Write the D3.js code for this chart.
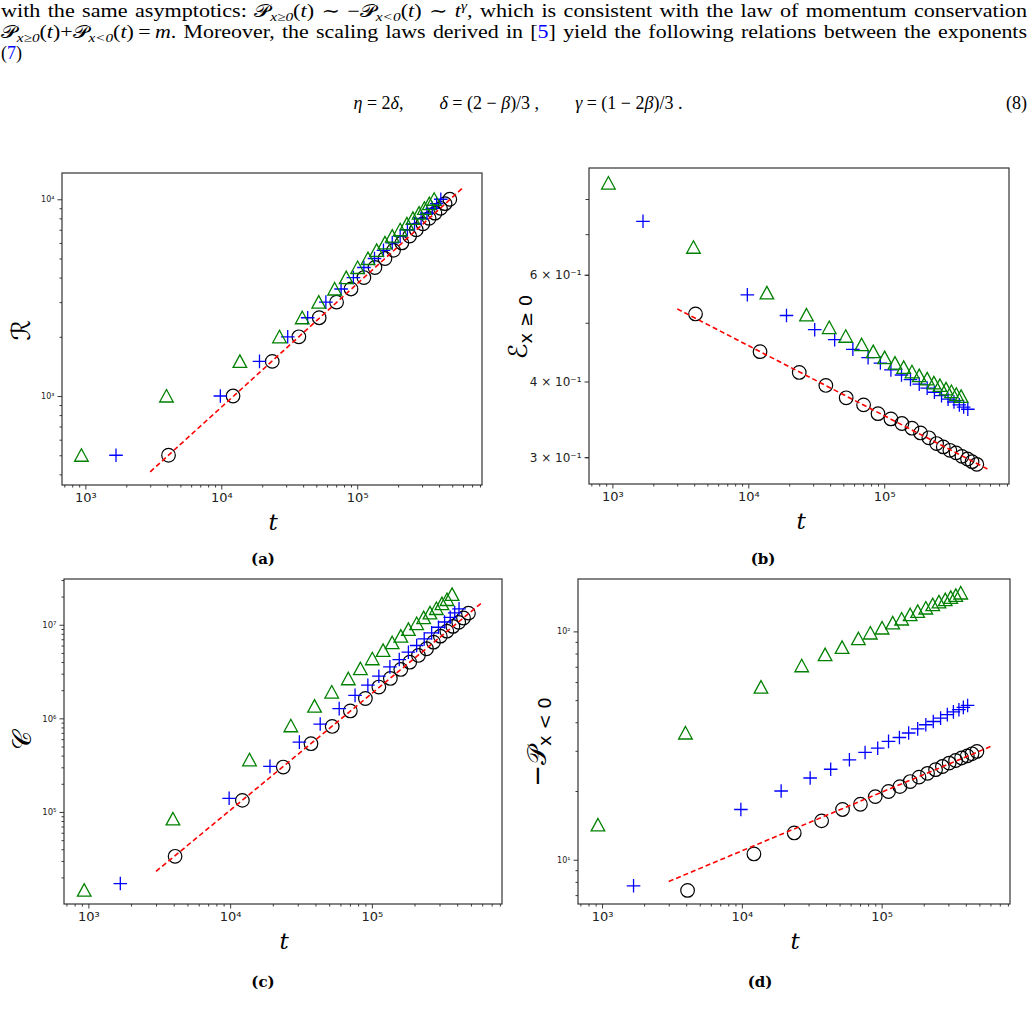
<!DOCTYPE html>
<html lang="en">
<head>
<meta charset="utf-8">
<title>Scaling of R, E, C, P</title>
<script src="https://d3js.org/d3.v7.min.js"></script>
<style>
  body { margin: 0; background: #fff; }
  .page { font-family: "Liberation Serif", "DejaVu Serif", serif; font-size: 18px; fill: #000; }
  .cap { font-family: "DejaVu Serif", serif; font-weight: bold; font-size: 15px; }
  .xlab { font-family: "DejaVu Serif", serif; font-style: italic; font-size: 23px; }
</style>
</head>
<body>
<script>
// times of the three runs (same for every panel)
const tTri  = [935, 3950, 13700, 26800, 39400, 52100, 68200, 83000, 100700, 120000, 139000, 160000, 181000, 207000, 232000, 257000, 285000, 312000, 339000, 368000];
const tPlus = [1680, 9840, 19100, 30800, 43200, 58800, 76100, 93700, 112000, 134000, 156000, 181000, 207000, 234000, 264000, 295000, 326000, 357000, 384000, 412000];
const tCirc = [4090, 12200, 23700, 37200, 52500, 70500, 90000, 112000, 135000, 160000, 185000, 213000, 243000, 272000, 304000, 338000, 373000, 410000, 443000, 480000];

// (a) R
const rVals = [500, 1000, 1500, 2000, 2500, 3000, 3500, 4000, 4500, 5000, 5500, 6000, 6500, 7000, 7500, 8000, 8500, 9000, 9500, 10000];

// (b) E_{x>=0}
const eTri  = [0.850, 0.666, 0.560, 0.515, 0.491, 0.475, 0.460, 0.448, 0.438, 0.429, 0.422, 0.415, 0.409, 0.404, 0.398, 0.394, 0.389, 0.385, 0.381, 0.378];
const ePlus = [0.735, 0.556, 0.514, 0.487, 0.469, 0.452, 0.438, 0.429, 0.418, 0.410, 0.403, 0.396, 0.390, 0.384, 0.379, 0.374, 0.370, 0.366, 0.363, 0.360];
const eCirc = [0.517, 0.448, 0.414, 0.394, 0.376, 0.366, 0.354, 0.347, 0.341, 0.335, 0.329, 0.323, 0.316, 0.312, 0.308, 0.305, 0.301, 0.298, 0.295, 0.292];

// (c) C
const cTri  = [14600, 84200, 361000, 834000, 1.35e6, 1.91e6, 2.65e6, 3.39e6, 4.33e6, 5.32e6, 6.43e6, 7.56e6, 8.92e6, 1.03e7, 1.19e7, 1.34e7, 1.49e7, 1.68e7, 1.86e7, 2.11e7];
const cPlus = [17200, 140000, 307000, 558000, 869000, 1.27e6, 1.76e6, 2.26e6, 2.82e6, 3.55e6, 4.25e6, 5.09e6, 6.0e6, 7.07e6, 8.19e6, 9.4e6, 1.07e7, 1.20e7, 1.34e7, 1.48e7];
const cCirc = [33600, 133000, 302000, 536000, 819000, 1.20e6, 1.63e6, 2.16e6, 2.67e6, 3.33e6, 3.98e6, 4.70e6, 5.54e6, 6.51e6, 7.55e6, 8.53e6, 9.6e6, 1.06e7, 1.18e7, 1.33e7];

// (d) -P_{x<0}
const pTri  = [14.2, 35.9, 57.0, 70.7, 79.1, 85.1, 92.9, 98.4, 103.5, 108.9, 113.3, 118.3, 122.4, 126.6, 130.9, 134.6, 137.7, 140.9, 143.8, 147.3];
const pPlus = [7.69, 16.6, 20.0, 22.8, 24.9, 27.4, 29.5, 30.8, 33.0, 34.3, 35.9, 37.4, 39.0, 40.3, 41.7, 43.2, 44.4, 45.4, 46.5, 47.4];
const pCirc = [7.34, 10.6, 13.1, 14.8, 16.6, 17.5, 18.9, 19.9, 20.9, 22.0, 23.0, 23.9, 24.8, 25.6, 26.5, 27.2, 27.9, 28.5, 29.1, 29.8];

// power-law fits (end points)
const fitT = [3000, 600000];
const fitR = [412, 11460];
const fitE = [0.527, 0.2855];
const fitC = [23200, 1.73e7];
const fitP = [8.03, 31.3];

const xTickVals = [1e3, 1e4, 1e5];
const xTickLabels = ['10³', '10⁴', '10⁵'];

const W = 1029, H = 1013;
const svg = d3.select('body').append('svg').attr('width', W).attr('height', H);

// ---------- page text ----------
function rich(x, y, parts, opts) {
  const t = svg.append('text').attr('class', 'page').attr('x', x).attr('y', y);
  if (opts && opts.anchor) t.attr('text-anchor', opts.anchor);
  if (opts && opts.size) t.attr('font-size', opts.size);
  let off = 0;
  parts.forEach(p => {
    if (typeof p === 'string') p = { s: p };
    const want = p.sub ? 4 : p.sup ? -7 : 0;
    const sp = t.append('tspan').text(p.s).attr('dy', want - off);
    off = want;
    if (p.sub || p.sup) sp.attr('font-size', '12.5px');
    if (p.it) sp.attr('font-style', 'italic');
    if (p.cal) sp.attr('font-family', 'DejaVu Sans');
    if (p.blue) sp.attr('fill', '#0000ff');
  });
  if (opts && opts.len) {
    // justify: a little extra room between words, the rest by widening the glyphs
    t.attr('word-spacing', 1.5);
    t.attr('textLength', opts.len).attr('lengthAdjust', 'spacingAndGlyphs');
  }
  return t;
}

rich(1, 17, [
  'with the same asymptotics: ', { s: '𝒫', cal: 1 }, { s: 'x≥0', sub: 1, it: 1 }, '(', { s: 't', it: 1 }, ') ∼ −',
  { s: '𝒫', cal: 1 }, { s: 'x<0', sub: 1, it: 1 }, '(', { s: 't', it: 1 }, ') ∼ ', { s: 't', it: 1 }, { s: 'γ', sup: 1, it: 1 },
  ', which is consistent with the law of momentum conservation'
], { len: 1026 });

rich(1, 38, [
  { s: '𝒫', cal: 1 }, { s: 'x≥0', sub: 1, it: 1 }, '(', { s: 't', it: 1 }, ')+', { s: '𝒫', cal: 1 }, { s: 'x<0', sub: 1, it: 1 },
  '(', { s: 't', it: 1 }, ')\u2009=\u2009', { s: 'm', it: 1 }, '. Moreover, the scaling laws derived in [', { s: '5', blue: 1 },
  '] yield the following relations between the exponents'
], { len: 1026 });

rich(1, 59, ['(', { s: '7', blue: 1 }, ')']);

rich(518, 109, [
  { s: 'η', it: 1 }, ' = 2', { s: 'δ', it: 1 }, ',\u2003\u2003', { s: 'δ', it: 1 }, ' = (2 − ', { s: 'β', it: 1 }, ')/3 ,\u2003\u2003',
  { s: 'γ', it: 1 }, ' = (1 − 2', { s: 'β', it: 1 }, ')/3 .'
], { anchor: 'middle', size: 20 });

rich(1027, 109, ['(8)'], { anchor: 'end', size: 20 });

// ---------- panels ----------
const xDom = [673, 828000];

function logMinors(dom) {
  const out = [];
  for (let e = Math.floor(Math.log10(dom[0])); e <= Math.ceil(Math.log10(dom[1])); e++) {
    for (let k = 1; k <= 9; k++) {
      const v = k * Math.pow(10, e);
      if (v > dom[0] && v < dom[1]) out.push(v);
    }
  }
  return out;
}

function styleAxis(a, size) {
  a.select('.domain').remove();
  a.attr('font-family', 'DejaVu Sans').attr('font-size', size);
  a.selectAll('line').attr('stroke', '#222').attr('stroke-width', 0.9);
  a.selectAll('text').attr('fill', '#222');
}

function marker(g, kind, pts) {
  const sel = g.selectAll(null).data(pts).enter();
  if (kind === 'circ') {
    sel.append('circle').attr('cx', d => d[0]).attr('cy', d => d[1]).attr('r', 6.8)
      .attr('fill', 'none').attr('stroke', '#000').attr('stroke-width', 1.2);
  } else if (kind === 'plus') {
    sel.append('path').attr('transform', d => `translate(${d[0]},${d[1]})`)
      .attr('d', 'M-6.8,0H6.8M0,-6.8V6.8').attr('stroke', '#0000ff').attr('stroke-width', 1.3).attr('fill', 'none');
  } else {
    sel.append('path').attr('transform', d => `translate(${d[0]},${d[1]})`)
      .attr('d', 'M0,-6.5L6.8,6L-6.8,6Z').attr('stroke', '#008000').attr('stroke-width', 1.3).attr('fill', 'none');
  }
}

function panel(c) {
  const x = d3.scaleLog().domain(xDom).range([c.x0, c.x1]);
  const y = d3.scaleLog().domain(c.yDom).range([c.y1, c.y0]);
  const g = svg.append('g');

  // x axis
  const xMin = logMinors(xDom).filter(v => !xTickVals.includes(v));
  g.append('g').attr('transform', `translate(0,${c.y1})`)
    .call(d3.axisBottom(x).tickValues(xMin).tickSize(2.5).tickFormat(''))
    .call(a => styleAxis(a, 13));
  g.append('g').attr('transform', `translate(0,${c.y1})`)
    .call(d3.axisBottom(x).tickValues(xTickVals).tickSize(4.5).tickPadding(3)
      .tickFormat((d, i) => xTickLabels[i]))
    .call(a => styleAxis(a, 13));

  // y axis
  const yMin = logMinors(c.yDom).filter(v => !c.yTicks.includes(v));
  g.append('g').attr('transform', `translate(${c.x0},0)`)
    .call(d3.axisLeft(y).tickValues(yMin).tickSize(c.minorLen).tickFormat(''))
    .call(a => styleAxis(a, c.yFont));
  g.append('g').attr('transform', `translate(${c.x0},0)`)
    .call(d3.axisLeft(y).tickValues(c.yTicks).tickSize(4.5).tickPadding(3)
      .tickFormat((d, i) => c.yLabels[i]))
    .call(a => styleAxis(a, c.yFont));

  // data
  marker(g, 'circ', tCirc.map((t, i) => [x(t), y(c.circ[i])]));
  marker(g, 'plus', tPlus.map((t, i) => [x(t), y(c.plus[i])]));
  marker(g, 'tri', tTri.map((t, i) => [x(t), y(c.tri[i])]));

  g.append('path')
    .attr('d', d3.line().x(d => x(d[0])).y(d => y(d[1]))(fitT.map((t, i) => [t, c.fit[i]])))
    .attr('fill', 'none').attr('stroke', '#ff0000').attr('stroke-width', 1.6).attr('stroke-dasharray', '5,3');

  // frame
  g.append('rect').attr('x', c.x0).attr('y', c.y0).attr('width', c.x1 - c.x0).attr('height', c.y1 - c.y0)
    .attr('fill', 'none').attr('stroke', '#333').attr('stroke-width', 1.2);

  // x label
  g.append('text').attr('class', 'xlab').attr('x', c.tx).attr('y', c.y1 + 45)
    .attr('text-anchor', 'middle').text('t');

  // y label
  const yl = g.append('text').attr('transform', `translate(${c.lx},${c.ly}) rotate(-90)`)
    .attr('text-anchor', 'middle').attr('font-family', 'DejaVu Sans');
  c.ylab.forEach(p => {
    yl.append('tspan').text(p.s).attr('font-size', p.size).attr('dy', p.dy || 0);
  });

  // caption
  svg.append('text').attr('class', 'cap').attr('x', c.capx).attr('y', c.capy)
    .attr('text-anchor', 'middle').text(c.cap);
}

panel({
  x0: 62, y0: 173, x1: 482, y1: 485, yDom: [353, 13600],
  yTicks: [1e3, 1e4], yLabels: ['10³', '10⁴'], yFont: 8, minorLen: 2.5,
  circ: rVals, plus: rVals, tri: rVals, fit: fitR,
  tx: 273, lx: 30, ly: 330, ylab: [{ s: 'ℛ', size: 26 }],
  cap: '(a)', capx: 263, capy: 564
});

panel({
  x0: 589, y0: 168, x1: 1009, y1: 484, yDom: [0.271, 0.9],
  yTicks: [0.3, 0.4, 0.6], yLabels: ['3 × 10⁻¹', '4 × 10⁻¹', '6 × 10⁻¹'], yFont: 12, minorLen: 3.5,
  circ: eCirc, plus: ePlus, tri: eTri, fit: fitE,
  tx: 801, lx: 527, ly: 327, ylab: [{ s: 'ℰ', size: 26 }, { s: 'x ≥ 0', size: 18, dy: 5 }],
  cap: '(b)', capx: 763, capy: 564
});

panel({
  x0: 64, y0: 579, x1: 502, y1: 904, yDom: [10400, 3.08e7],
  yTicks: [1e5, 1e6, 1e7], yLabels: ['10⁵', '10⁶', '10⁷'], yFont: 8.5, minorLen: 2.5,
  circ: cCirc, plus: cPlus, tri: cTri, fit: fitC,
  tx: 284, lx: 31, ly: 740, ylab: [{ s: '𝒞', size: 26 }],
  cap: '(c)', capx: 263, capy: 987
});

panel({
  x0: 578, y0: 579, x1: 1010, y1: 904, yDom: [6.40, 169.6],
  yTicks: [1e1, 1e2], yLabels: ['10¹', '10²'], yFont: 8, minorLen: 2.5,
  circ: pCirc, plus: pPlus, tri: pTri, fit: fitP,
  tx: 795, lx: 546, ly: 742, ylab: [{ s: '−𝒫', size: 26 }, { s: 'x < 0', size: 18, dy: 5 }],
  cap: '(d)', capx: 760, capy: 987
});
</script>
</body>
</html>
